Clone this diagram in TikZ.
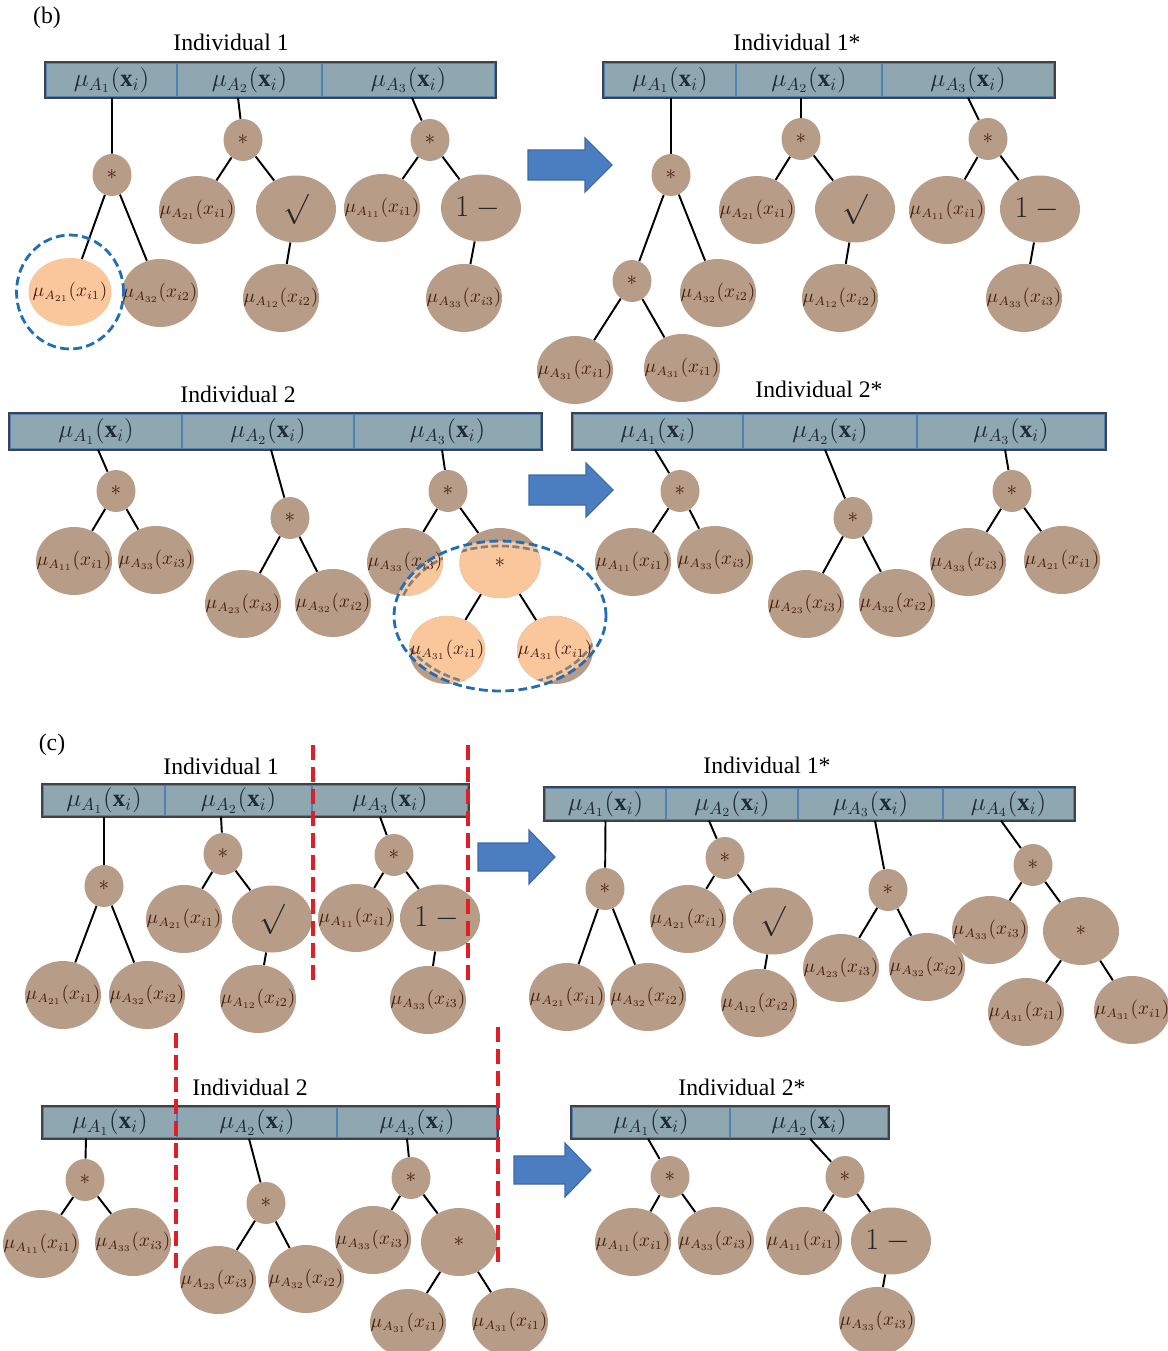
\documentclass[tikz,border=0pt]{standalone}
\usepackage{fontspec}
\setmainfont{Liberation Serif}
\usetikzlibrary{shapes.geometric,calc}

\definecolor{cellfill}{RGB}{142,167,176}
\definecolor{celledge}{RGB}{79,129,189}
\definecolor{baredge}{RGB}{64,66,70}
\definecolor{nodebrown}{RGB}{183,156,135}
\definecolor{hlorange}{RGB}{250,199,157}
\definecolor{ringblue}{RGB}{33,110,182}
\definecolor{arrowblue}{RGB}{74,126,193}
\definecolor{arrowedge}{RGB}{60,105,165}
\definecolor{cutred}{RGB}{224,30,40}
\definecolor{leaftext}{RGB}{70,32,18}
\definecolor{celltext}{RGB}{30,42,55}

\newcommand{\mucell}[1]{$\mu_{A_{#1}}(\mathbf{x}_i)$}
\newcommand{\muleaf}[2]{\makebox[0pt]{$\mu_{A_{#1}}(x_{i#2})$}}

\tikzset{
  cell/.style={rectangle, fill=cellfill, draw=celledge, line width=0.8pt, minimum height=0.68cm, inner sep=0pt, text=celltext, font=\fontsize{14}{16}\selectfont},
  barline/.style={draw=baredge, line width=1pt},
  leaf/.style={ellipse, fill=nodebrown, minimum width=1.52cm, minimum height=1.36cm, inner sep=0pt, text=leaftext, font=\fontsize{10.5}{12}\selectfont},
  opnode/.style={leaf, minimum width=1.6cm, minimum height=1.34cm, text=black!85, font=\fontsize{16}{18}\selectfont},
  bigstar/.style={leaf, font=\fontsize{12}{14}\selectfont},
  starnode/.style={ellipse, fill=nodebrown, minimum width=0.78cm, minimum height=0.84cm, inner sep=0pt, text=leaftext, font=\fontsize{12}{14}\selectfont},
  link/.style={line width=1.1pt},
  title/.style={font=\fontsize{13.5}{16}\selectfont},
  selring/.style={draw=ringblue, line width=1.6pt, dash pattern=on 5pt off 2.5pt},
  cutline/.style={draw=cutred, line width=2.2pt, dash pattern=on 8.5pt off 4pt},
  blockarrow/.style={fill=arrowblue, draw=arrowedge, line width=0.6pt},
  hlsel/.style={path picture={
      \fill[hlorange] (b2sel) ellipse [x radius=2.12cm, y radius=1.5cm];
      \draw[gray, line width=1.5pt, dash pattern=on 4pt off 2pt] (b2sel) ellipse [x radius=2.02cm, y radius=1.4cm];}}
}

\begin{document}
\begin{tikzpicture}[x=0.02cm,y=-0.02cm]
\useasboundingbox (0,0) rectangle (1168,1351);

% ---------------- panel (b) ----------------
\node[title] (blabel) at (47,18) {(b)};

% Individual 1
\node[title] (b1name) at (231,42) {Individual 1};
\node[cell, minimum width=2.62cm] (b1a1) at (111.5,80) {\mucell{1}};
\node[cell, minimum width=2.9cm] (b1a2) at (249.5,80) {\mucell{2}};
\node[cell, minimum width=3.46cm] (b1a3) at (408.5,80) {\mucell{3}};
\draw[barline] (b1a1.north west) rectangle (b1a3.south east);

\node[starnode] (b1t1) at (112,175) {$*$};
\node[leaf, fill=hlorange, minimum width=1.66cm] (b1t1l) at (70,292) {\muleaf{21}{1}};
\node[leaf] (b1t1r) at (160,293) {\muleaf{32}{2}};
\draw[link] ($(b1a1.south)+(0.5,0)$) -- (b1t1);
\draw[link] (b1t1) -- (b1t1l);
\draw[link] (b1t1) -- (b1t1r);
\draw[selring] (b1t1l) ellipse [x radius=1.07cm, y radius=1.14cm];

\node[starnode] (b1t2) at (243,140) {$*$};
\node[leaf] (b1t2l) at (197,210) {\muleaf{21}{1}};
\node[opnode] (b1t2r) at (296,209) {$\surd$};
\node[leaf] (b1t2rr) at (281,298) {\muleaf{12}{2}};
\draw[link] ($(b1a2.south)+(-11.5,0)$) -- (b1t2);
\draw[link] (b1t2) -- (b1t2l);
\draw[link] (b1t2) -- (b1t2r);
\draw[link] (b1t2r) -- (b1t2rr);

\node[starnode] (b1t3) at (430,140) {$*$};
\node[leaf] (b1t3l) at (382,208) {\muleaf{11}{1}};
\node[opnode] (b1t3r) at (481,208) {$1 -{}$};
\node[leaf] (b1t3rr) at (464,298) {\muleaf{33}{3}};
\draw[link] ($(b1a3.south)+(3.5,0)$) -- (b1t3);
\draw[link] (b1t3) -- (b1t3l);
\draw[link] (b1t3) -- (b1t3r);
\draw[link] (b1t3r) -- (b1t3rr);

\filldraw[blockarrow] (528,165) ++(0,-15) -- ++(57,0) -- ++(0,-12) -- ++(27,27)
  -- ++(-27,27) -- ++(0,-12) -- ++(-57,0) -- cycle;

% Individual 1*
\node[title] (b1sname) at (797,42) {Individual 1*};
\node[cell, minimum width=2.64cm] (b1sa1) at (670,80) {\mucell{1}};
\node[cell, minimum width=2.92cm] (b1sa2) at (809,80) {\mucell{2}};
\node[cell, minimum width=3.44cm] (b1sa3) at (968,80) {\mucell{3}};
\draw[barline] (b1sa1.north west) rectangle (b1sa3.south east);

\node[starnode] (b1st1) at (671,175) {$*$};
\node[starnode] (b1st1l) at (632,281) {$*$};
\node[leaf] (b1st1r) at (718,293) {\muleaf{32}{2}};
\node[leaf] (b1st1ll) at (575,370) {\muleaf{31}{1}};
\node[leaf] (b1st1lr) at (682,368) {\muleaf{31}{1}};
\draw[link] ($(b1sa1.south)+(1,0)$) -- (b1st1);
\draw[link] (b1st1) -- (b1st1l);
\draw[link] (b1st1) -- (b1st1r);
\draw[link] (b1st1l) -- (b1st1ll);
\draw[link] (b1st1l) -- (b1st1lr);

\node[starnode] (b1st2) at (801,139) {$*$};
\node[leaf] (b1st2l) at (757,210) {\muleaf{21}{1}};
\node[opnode] (b1st2r) at (855,209) {$\surd$};
\node[leaf] (b1st2rr) at (840,298) {\muleaf{12}{2}};
\draw[link] ($(b1sa2.south)+(-8,0)$) -- (b1st2);
\draw[link] (b1st2) -- (b1st2l);
\draw[link] (b1st2) -- (b1st2r);
\draw[link] (b1st2r) -- (b1st2rr);

\node[starnode] (b1st3) at (988,139) {$*$};
\node[leaf] (b1st3l) at (947,210) {\muleaf{11}{1}};
\node[opnode] (b1st3r) at (1040,209) {$1 -{}$};
\node[leaf] (b1st3rr) at (1024,298) {\muleaf{33}{3}};
\draw[link] (b1sa3.south) -- (b1st3);
\draw[link] (b1st3) -- (b1st3l);
\draw[link] (b1st3) -- (b1st3r);
\draw[link] (b1st3r) -- (b1st3rr);

% Individual 2
\coordinate (b2sel) at (500,616);
\node[title] (b2name) at (238,394) {Individual 2};
\node[cell, minimum width=3.44cm, minimum height=0.7cm] (b2a1) at (96,431.5) {\mucell{1}};
\node[cell, minimum width=3.44cm, minimum height=0.7cm] (b2a2) at (268,431.5) {\mucell{2}};
\node[cell, minimum width=3.74cm, minimum height=0.7cm] (b2a3) at (447.5,431.5) {\mucell{3}};
\draw[barline] (b2a1.north west) rectangle (b2a3.south east);

\node[starnode] (b2t1) at (116,491) {$*$};
\node[leaf] (b2t1l) at (74,561) {\muleaf{11}{1}};
\node[leaf] (b2t1r) at (156,560) {\muleaf{33}{3}};
\draw[link] ($(b2a1.south)+(2,0)$) -- (b2t1);
\draw[link] (b2t1) -- (b2t1l);
\draw[link] (b2t1) -- (b2t1r);

\node[starnode] (b2t2) at (290,518) {$*$};
\node[leaf] (b2t2l) at (243,604) {\muleaf{23}{3}};
\node[leaf] (b2t2r) at (333,603) {\muleaf{32}{2}};
\draw[link] ($(b2a2.south)+(3,0)$) -- (b2t2);
\draw[link] (b2t2) -- (b2t2l);
\draw[link] (b2t2) -- (b2t2r);

\node[starnode] (b2t3) at (448,491) {$*$};
\node[leaf, hlsel] (b2t3l) at (405,562) {\muleaf{33}{3}};
\node[bigstar, hlsel, minimum width=1.62cm, minimum height=1.4cm] (b2t3r) at (500,563) {$*$};
\node[leaf, hlsel] (b2t3rl) at (447,650) {\muleaf{31}{1}};
\node[leaf, hlsel] (b2t3rr) at (555,650) {\muleaf{31}{1}};
\draw[link] ($(b2a3.south)+(-5.5,0)$) -- (b2t3);
\draw[link] (b2t3) -- (b2t3l);
\draw[link] (b2t3) -- (b2t3r);
\draw[link] (b2t3r) -- (b2t3rl);
\draw[link] (b2t3r) -- (b2t3rr);
\draw[selring] (b2sel) ellipse [x radius=2.12cm, y radius=1.5cm];

\filldraw[blockarrow] (529,490) ++(0,-15) -- ++(57,0) -- ++(0,-12) -- ++(27,27)
  -- ++(-27,27) -- ++(0,-12) -- ++(-57,0) -- cycle;

% Individual 2*
\node[title] (b2sname) at (819,389) {Individual 2*};
\node[cell, minimum width=3.4cm, minimum height=0.7cm] (b2sa1) at (658,431.5) {\mucell{1}};
\node[cell, minimum width=3.48cm, minimum height=0.7cm] (b2sa2) at (830,431.5) {\mucell{2}};
\node[cell, minimum width=3.76cm, minimum height=0.7cm] (b2sa3) at (1011,431.5) {\mucell{3}};
\draw[barline] (b2sa1.north west) rectangle (b2sa3.south east);

\node[starnode] (b2st1) at (680,491) {$*$};
\node[leaf] (b2st1l) at (633,562) {\muleaf{11}{1}};
\node[leaf] (b2st1r) at (715,560) {\muleaf{33}{3}};
\draw[link] ($(b2sa1.south)+(-3,0)$) -- (b2st1);
\draw[link] (b2st1) -- (b2st1l);
\draw[link] (b2st1) -- (b2st1r);

\node[starnode] (b2st2) at (853,518) {$*$};
\node[leaf] (b2st2l) at (806,604) {\muleaf{23}{3}};
\node[leaf] (b2st2r) at (897,603) {\muleaf{32}{2}};
\draw[link] ($(b2sa2.south)+(-5,0)$) -- (b2st2);
\draw[link] (b2st2) -- (b2st2l);
\draw[link] (b2st2) -- (b2st2r);

\node[starnode] (b2st3) at (1012,491) {$*$};
\node[leaf] (b2st3l) at (968,562) {\muleaf{33}{3}};
\node[leaf] (b2st3r) at (1062,560) {\muleaf{21}{1}};
\draw[link] ($(b2sa3.south)+(-6,0)$) -- (b2st3);
\draw[link] (b2st3) -- (b2st3l);
\draw[link] (b2st3) -- (b2st3r);

% ---------------- panel (c) ----------------
\node[title] (clabel) at (52,745) {(c)};

% Individual 1
\node[title] (c1name) at (221,766) {Individual 1};
\node[cell, minimum width=2.44cm, minimum height=0.62cm] (c1a1) at (104,800.5) {\mucell{1}};
\node[cell, minimum width=2.94cm, minimum height=0.62cm] (c1a2) at (238.5,800.5) {\mucell{2}};
\node[cell, minimum width=3.12cm, minimum height=0.62cm] (c1a3) at (390,800.5) {\mucell{3}};
\draw[barline] (c1a1.north west) rectangle (c1a3.south east);

\node[starnode] (c1t1) at (104,886) {$*$};
\node[leaf] (c1t1l) at (63,995) {\muleaf{21}{1}};
\node[leaf] (c1t1r) at (147,995) {\muleaf{32}{2}};
\draw[link] (c1a1.south) -- (c1t1);
\draw[link] (c1t1) -- (c1t1l);
\draw[link] (c1t1) -- (c1t1r);

\node[starnode] (c1t2) at (223,854) {$*$};
\node[leaf] (c1t2l) at (184,919) {\muleaf{21}{1}};
\node[opnode] (c1t2r) at (272,919) {$\surd$};
\node[leaf] (c1t2rr) at (258,999) {\muleaf{12}{2}};
\draw[link] ($(c1a2.south)+(-17.5,0)$) -- (c1t2);
\draw[link] (c1t2) -- (c1t2l);
\draw[link] (c1t2) -- (c1t2r);
\draw[link] (c1t2r) -- (c1t2rr);

\node[starnode] (c1t3) at (394,855) {$*$};
\node[leaf] (c1t3l) at (356,918) {\muleaf{11}{1}};
\node[opnode] (c1t3r) at (440,918) {$1 -{}$};
\node[leaf] (c1t3rr) at (428,1000) {\muleaf{33}{3}};
\draw[link] ($(c1a3.south)+(-10,0)$) -- (c1t3);
\draw[link] (c1t3) -- (c1t3l);
\draw[link] (c1t3) -- (c1t3r);
\draw[link] (c1t3r) -- (c1t3rr);

\draw[cutline] (313,745) -- (313,985);
\draw[cutline] (468,745) -- (468,985);

\filldraw[blockarrow] (478,857) ++(0,-14) -- ++(51,0) -- ++(0,-13) -- ++(26,27)
  -- ++(-26,27) -- ++(0,-13) -- ++(-51,0) -- cycle;

% Individual 1*
\node[title] (c1sname) at (767,765) {Individual 1*};
\node[cell, minimum width=2.42cm, minimum height=0.64cm] (c1sa1) at (605.5,804) {\mucell{1}};
\node[cell, minimum width=2.64cm, minimum height=0.64cm] (c1sa2) at (732,804) {\mucell{2}};
\node[cell, minimum width=2.9cm, minimum height=0.64cm] (c1sa3) at (870.5,804) {\mucell{3}};
\node[cell, minimum width=2.62cm, minimum height=0.64cm] (c1sa4) at (1008.5,804) {\mucell{4}};
\draw[barline] (c1sa1.north west) rectangle (c1sa4.south east);

\node[starnode] (c1st1) at (605,889) {$*$};
\node[leaf] (c1st1l) at (567,997) {\muleaf{21}{1}};
\node[leaf] (c1st1r) at (648,997) {\muleaf{32}{2}};
\draw[link] (c1sa1.south) -- (c1st1);
\draw[link] (c1st1) -- (c1st1l);
\draw[link] (c1st1) -- (c1st1r);

\node[starnode] (c1st2) at (725,858) {$*$};
\node[leaf] (c1st2l) at (688,919) {\muleaf{21}{1}};
\node[opnode] (c1st2r) at (773,921) {$\surd$};
\node[leaf] (c1st2rr) at (759,1003) {\muleaf{12}{2}};
\draw[link] ($(c1sa2.south)+(-23,0)$) -- (c1st2);
\draw[link] (c1st2) -- (c1st2l);
\draw[link] (c1st2) -- (c1st2r);
\draw[link] (c1st2r) -- (c1st2rr);

\node[starnode] (c1st3) at (888,890) {$*$};
\node[leaf] (c1st3l) at (841,968) {\muleaf{23}{3}};
\node[leaf] (c1st3r) at (927,967) {\muleaf{32}{2}};
\draw[link] ($(c1sa3.south)+(4.5,0)$) -- (c1st3);
\draw[link] (c1st3) -- (c1st3l);
\draw[link] (c1st3) -- (c1st3r);

\node[starnode] (c1st4) at (1033,865) {$*$};
\node[leaf] (c1st4l) at (990,930) {\muleaf{33}{3}};
\node[bigstar] (c1st4r) at (1081,931) {$*$};
\node[leaf] (c1st4rl) at (1026,1012) {\muleaf{31}{1}};
\node[leaf] (c1st4rr) at (1132,1010) {\muleaf{31}{1}};
\draw[link] ($(c1sa4.south)+(-7.5,0)$) -- (c1st4);
\draw[link] (c1st4) -- (c1st4l);
\draw[link] (c1st4) -- (c1st4r);
\draw[link] (c1st4r) -- (c1st4rl);
\draw[link] (c1st4r) -- (c1st4rr);

% Individual 2
\node[title] (c2name) at (250,1087) {Individual 2};
\node[cell, minimum width=2.68cm, minimum height=0.62cm] (c2a1) at (110,1122.5) {\mucell{1}};
\node[cell, minimum width=3.2cm, minimum height=0.62cm] (c2a2) at (257,1122.5) {\mucell{2}};
\node[cell, minimum width=3.2cm, minimum height=0.62cm] (c2a3) at (417,1122.5) {\mucell{3}};
\draw[barline] (c2a1.north west) rectangle (c2a3.south east);

\node[starnode] (c2t1) at (85,1180) {$*$};
\node[leaf] (c2t1l) at (41,1244) {\muleaf{11}{1}};
\node[leaf] (c2t1r) at (133,1242) {\muleaf{33}{3}};
\draw[link] ($(c2a1.south)+(-24,0)$) -- (c2t1);
\draw[link] (c2t1) -- (c2t1l);
\draw[link] (c2t1) -- (c2t1r);

\node[starnode] (c2t2) at (266,1203) {$*$};
\node[leaf] (c2t2l) at (218,1280) {\muleaf{23}{3}};
\node[leaf] (c2t2r) at (306,1279) {\muleaf{32}{2}};
\draw[link] ($(c2a2.south)+(-8,0)$) -- (c2t2);
\draw[link] (c2t2) -- (c2t2l);
\draw[link] (c2t2) -- (c2t2r);

\node[starnode] (c2t3) at (411,1178) {$*$};
\node[leaf] (c2t3l) at (373,1240) {\muleaf{33}{3}};
\node[bigstar] (c2t3r) at (459,1242) {$*$};
\node[leaf] (c2t3rl) at (408,1323) {\muleaf{31}{1}};
\node[leaf] (c2t3rr) at (510,1322) {\muleaf{31}{1}};
\draw[link] ($(c2a3.south)+(-10,0)$) -- (c2t3);
\draw[link] (c2t3) -- (c2t3l);
\draw[link] (c2t3) -- (c2t3r);
\draw[link] (c2t3r) -- (c2t3rl);
\draw[link] (c2t3r) -- (c2t3rr);

\draw[cutline] (176,1033) -- (176,1273);
\draw[cutline] (498,1027) -- (498,1265);

\filldraw[blockarrow] (514,1170) ++(0,-14) -- ++(51,0) -- ++(0,-13) -- ++(26,27)
  -- ++(-26,27) -- ++(0,-13) -- ++(-51,0) -- cycle;

% Individual 2*
\node[title] (c2sname) at (742,1087) {Individual 2*};
\node[cell, minimum width=3.16cm, minimum height=0.62cm] (c2sa1) at (651,1122.5) {\mucell{1}};
\node[cell, minimum width=3.16cm, minimum height=0.62cm] (c2sa2) at (809,1122.5) {\mucell{2}};
\draw[barline] (c2sa1.north west) rectangle (c2sa2.south east);

\node[starnode] (c2st1) at (670,1177) {$*$};
\node[leaf] (c2st1l) at (633,1242) {\muleaf{11}{1}};
\node[leaf] (c2st1r) at (716,1241) {\muleaf{33}{3}};
\draw[link] ($(c2sa1.south)+(-3,0)$) -- (c2st1);
\draw[link] (c2st1) -- (c2st1l);
\draw[link] (c2st1) -- (c2st1r);

\node[starnode] (c2st2) at (845,1177) {$*$};
\node[leaf] (c2st2l) at (804,1241) {\muleaf{11}{1}};
\node[opnode] (c2st2r) at (891,1241) {$1 -{}$};
\node[leaf] (c2st2rr) at (877,1321) {\muleaf{33}{3}};
\draw[link] ($(c2sa2.south)+(1,0)$) -- (c2st2);
\draw[link] (c2st2) -- (c2st2l);
\draw[link] (c2st2) -- (c2st2r);
\draw[link] (c2st2r) -- (c2st2rr);
\end{tikzpicture}
\end{document}
